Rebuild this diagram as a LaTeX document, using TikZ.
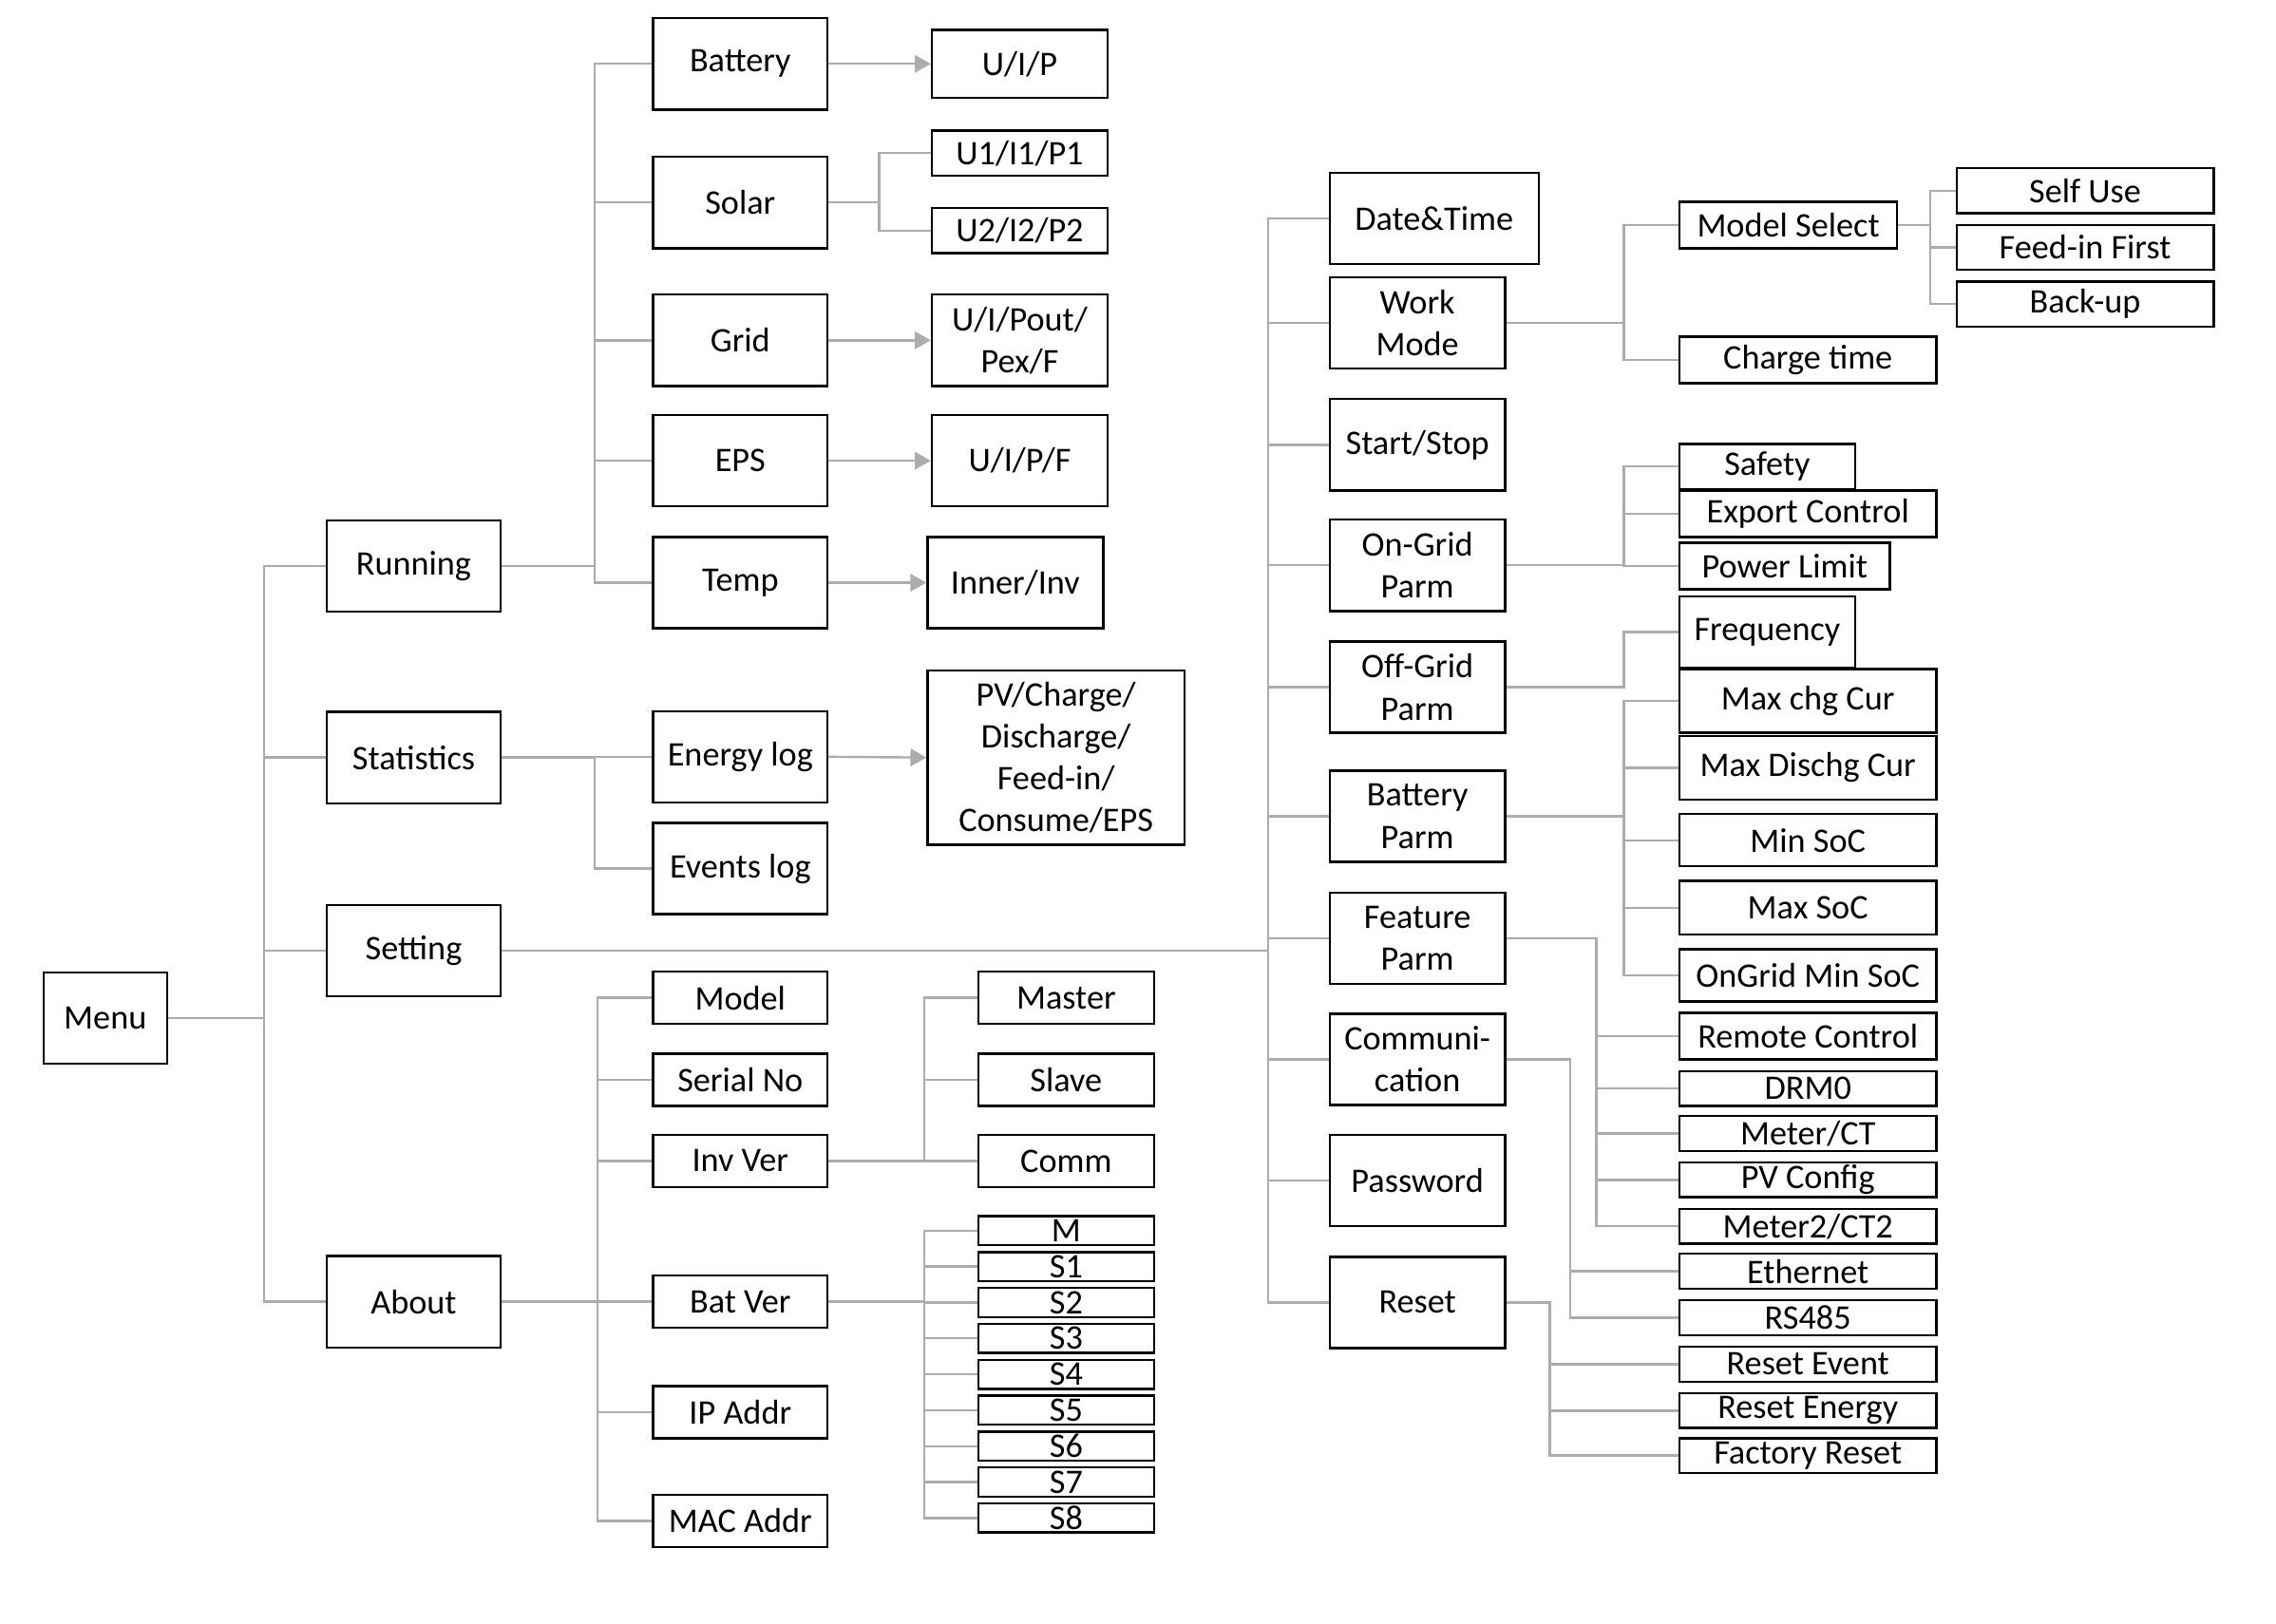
\documentclass[tikz,border=0pt]{standalone}
\usepackage{fontspec}
\setmainfont{Carlito}
\usetikzlibrary{arrows.meta}

\begin{document}
\begin{tikzpicture}[
  x=0.02cm, y=-0.02cm,
  box/.style={draw, line width=0.9pt, inner sep=0pt, align=center,
              font=\fontsize{13.5}{16.5}\selectfont},
  grp/.style={box, minimum width=2.4cm, minimum height=1.26cm},
  sub/.style={box, minimum width=2.42cm, minimum height=1.26cm},
  wide/.style={box, minimum width=3.54cm, minimum height=0.64cm},
  thin/.style={box, minimum width=3.54cm, minimum height=0.48cm},
  row/.style={box, minimum width=2.4cm, minimum height=0.72cm},
  slim/.style={box, minimum width=2.42cm, minimum height=0.4cm},
  link/.style={line width=0.9pt, gray!65},
  arr/.style={link, -{Triangle[length=2.2mm, width=2.4mm]}},
]
\useasboundingbox (0,0) rectangle (1568,1119);

% --- root and first level ---
\node[grp, minimum width=1.7cm] (menu) at (72.5,701.5) {Menu};
\node[grp] (running) at (285,390) {Running};
\node[grp] (stats)   at (285,522) {Statistics};
\node[grp] (setting) at (285,655) {Setting};
\node[grp] (about)   at (285,897) {About};

\foreach \c in {running,stats,setting,about}
  \draw[link] (menu.east) -- ++(66,0) |- (\c.west);

% --- Running ---
\node[grp] (battery) at (510,44)    {Battery};
\node[grp] (solar)   at (510,139.5) {Solar};
\node[grp] (grid)    at (510,234.5) {Grid};
\node[grp] (eps)     at (510,317.5) {EPS};
\node[grp] (temp)    at (510,401.5) {Temp};

\node[sub, minimum height=0.94cm] (uip)  at (702.5,44)    {U/I/P};
\node[sub, minimum height=0.62cm] (pv1)  at (702.5,105.5) {U1/I1/P1};
\node[sub, minimum height=0.62cm] (pv2)  at (702.5,159)   {U2/I2/P2};
\node[sub] (gridval) at (702.5,234.5) {U/I/Pout/\\Pex/F};
\node[sub] (epsval)  at (702.5,317.5) {U/I/P/F};
\node[sub] (tempval) at (699.5,401.5) {Inner/Inv};

\foreach \c in {battery,solar,grid,eps,temp}
  \draw[link] (running.east) -- ++(64,0) |- (\c.west);
\draw[arr] (battery.east) -- (uip.west);
\draw[link] (solar.east) -- ++(35,0) |- (pv1.west);
\draw[link] (solar.east) -- ++(35,0) |- (pv2.west);
\draw[arr] (grid.east) -- (gridval.west);
\draw[arr] (eps.east) -- (epsval.west);
\draw[arr] (temp.east) -- (tempval.west);

% --- Statistics ---
\node[grp] (energy) at (510,521.5) {Energy log};
\node[grp] (events) at (510,598.5) {Events log};
\node[box, minimum width=3.54cm, minimum height=2.4cm] (energyval) at (727.5,522)
  {PV/Charge/\\Discharge/\\Feed-in/\\Consume/EPS};

\foreach \c in {energy,events}
  \draw[link] (stats.east) -- ++(64,0) |- (\c.west);
\draw[arr] (energy.east) -- (energyval.west);

% --- Setting ---
\node[sub, minimum width=2.88cm] (datetime) at (988,150.5) {Date\&Time};
\node[sub] (workmode) at (976.5,222.5) {Work\\Mode};
\node[sub] (startstop) at (976.5,306.5) {Start/Stop};
\node[sub] (ongrid)   at (976.5,389.5) {On-Grid\\Parm};
\node[sub] (offgrid)  at (976.5,473.5) {Off-Grid\\Parm};
\node[sub] (batparm)  at (976.5,562.5) {Battery\\Parm};
\node[sub] (feature)  at (976.5,646.5) {Feature\\Parm};
\node[sub] (comm)     at (976.5,730)   {Communi-\\cation};
\node[sub] (password) at (976.5,813.5) {Password};
\node[sub] (reset)    at (976.5,897.5) {Reset};

\foreach \c in {datetime,workmode,startstop,ongrid,offgrid,batparm,feature,comm,password,reset}
  \draw[link] (setting.east) -- ++(528,0) |- (\c.west);

% work mode
\node[wide, minimum width=3cm] (modelsel) at (1232,155) {Model Select};
\node[wide] (chargetime) at (1245.5,248) {Charge time};
\node[wide, minimum height=0.62cm] (selfuse) at (1436.5,131.5) {Self Use};
\node[wide, minimum height=0.62cm] (feedin)  at (1436.5,170.5) {Feed-in First};
\node[wide, minimum height=0.62cm] (backup)  at (1436.5,209.5) {Back-up};

\foreach \c in {modelsel,chargetime}
  \draw[link] (workmode.east) -- ++(81,0) |- (\c.west);
\foreach \c in {selfuse,feedin,backup}
  \draw[link] (modelsel.east) -- ++(22,0) |- (\c.west);

% on-grid / off-grid
\node[box, minimum width=2.42cm, minimum height=0.62cm] (safety) at (1217.5,321.5) {Safety};
\node[wide] (export) at (1245.5,354) {Export Control};
\node[wide, minimum width=2.9cm] (powerlim) at (1229.5,390) {Power Limit};
\node[box, minimum width=2.42cm, minimum height=0.98cm] (freq) at (1217.5,435.5) {Frequency};

\foreach \c in {safety,export,powerlim}
  \draw[link] (ongrid.east) -- ++(81,0) |- (\c.west);
\draw[link] (offgrid.east) -- ++(81,0) |- (freq.west);

% battery parm
\node[wide, minimum height=0.88cm] (maxchg)  at (1245.5,483)   {Max chg Cur};
\node[wide, minimum height=0.88cm] (maxdis)  at (1245.5,529)   {Max Dischg Cur};
\node[wide, minimum height=0.72cm] (minsoc)  at (1245.5,579)   {Min SoC};
\node[wide, minimum height=0.74cm] (maxsoc)  at (1245.5,625.5) {Max SoC};
\node[wide, minimum height=0.72cm] (ongsoc)  at (1245.5,672)   {OnGrid Min SoC};

\foreach \c in {maxchg,maxdis,minsoc,maxsoc,ongsoc}
  \draw[link] (batparm.east) -- ++(81,0) |- (\c.west);

% feature parm
\node[wide] (remote) at (1245.5,714) {Remote Control};
\node[thin] (drm)    at (1245.5,750) {DRM0};
\node[thin] (meter)  at (1245.5,781) {Meter/CT};
\node[thin] (pvconf) at (1245.5,813) {PV Config};
\node[thin] (meter2) at (1245.5,845) {Meter2/CT2};

\foreach \c in {remote,drm,meter,pvconf,meter2}
  \draw[link] (feature.east) -- ++(62,0) |- (\c.west);

% communication
\node[thin] (ether) at (1245.5,876) {Ethernet};
\node[thin] (rs485) at (1245.5,908) {RS485};

\foreach \c in {ether,rs485}
  \draw[link] (comm.east) -- ++(44,0) |- (\c.west);

% reset
\node[thin] (resetev) at (1245.5,940)  {Reset Event};
\node[thin] (resetenergy) at (1245.5,972) {Reset Energy};
\node[thin] (factory) at (1245.5,1003) {Factory Reset};

\foreach \c in {resetev,resetenergy,factory}
  \draw[link] (reset.east) -- ++(30,0) |- (\c.west);

% --- About ---
\node[row] (model)  at (510,687.5) {Model};
\node[row] (serial) at (510,744)   {Serial No};
\node[row] (invver) at (510,800)   {Inv Ver};
\node[row] (batver) at (510,897)   {Bat Ver};
\node[row] (ipaddr) at (510,973)   {IP Addr};
\node[row] (macaddr) at (510,1048) {MAC Addr};

\foreach \c in {model,serial,invver,batver,ipaddr,macaddr}
  \draw[link] (about.east) -- ++(66,0) |- (\c.west);

\node[row, minimum width=2.42cm] (master) at (734.5,687.5) {Master};
\node[row, minimum width=2.42cm] (slave)  at (734.5,744)   {Slave};
\node[row, minimum width=2.42cm] (commver) at (734.5,800)  {Comm};

\foreach \c in {master,slave,commver}
  \draw[link] (invver.east) -- ++(66,0) |- (\c.west);

\foreach \s [count=\i from 0] in {M,S1,S2,S3,S4,S5,S6,S7,S8} {
  \node[slim] (bv\i) at (734.5,848+24.75*\i) {\s};
  \draw[link] (batver.east) -- ++(66,0) |- (bv\i.west);
}
\end{tikzpicture}
\end{document}
